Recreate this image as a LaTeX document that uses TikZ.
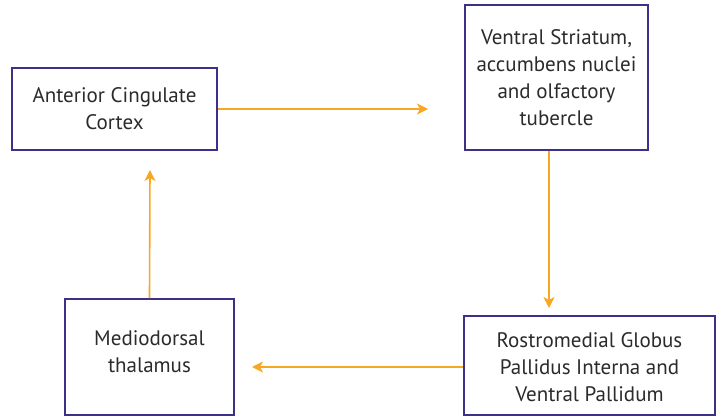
\documentclass[tikz,border=0pt]{standalone}
\usepackage{fontspec}
\setmainfont{PT Sans}
\usetikzlibrary{arrows.meta}
\definecolor{boxline}{HTML}{3B3189}
\definecolor{arr}{HTML}{F7A823}
\definecolor{txt}{HTML}{2B2B2B}
\tikzset{
  region/.style={draw=boxline, line width=1.8pt, fill=white, rectangle, align=center,
    text=txt, font=\fontsize{21}{27}\selectfont, inner sep=0pt},
  regtext/.style={align=center, text=txt, font=\fontsize{21}{27}\selectfont, inner sep=0pt},
  conn/.style={draw=arr, line width=1.6pt, -{Stealth[length=11pt,width=11pt,inset=3pt]}}
}
\begin{document}
\begin{tikzpicture}[x=1pt,y=-1pt]
\useasboundingbox (0,0) rectangle (717,417);
\node[region, minimum width=205pt, minimum height=82pt] (acc) at (114.5,109) {Anterior Cingulate\\Cortex};
\node[region, minimum width=183pt, minimum height=145pt] (vs) at (556.5,77.5) {Ventral Striatum,\\accumbens nuclei\\and olfactory\\tubercle};
\node[region, minimum width=169pt, minimum height=116pt,
  label={[regtext, yshift=5pt]center:{Mediodorsal\\thalamus}}] (md) at (149.5,357) {};
\node[region, minimum width=251pt, minimum height=99pt,
  label={[regtext, yshift=-2pt]center:{Rostromedial Globus\\Pallidus Interna and\\Ventral Pallidum}}] (rgp) at (589.5,365.5) {};
\coordinate (a1) at (428,109);
\coordinate (s2) at (549,150);
\coordinate (a2) at (549,308);
\coordinate (a3) at (252,367);
\coordinate (s3) at (464,367);
\coordinate (a4) at (150,170);
\draw[conn] (acc.east) -- (a1);
\draw[conn] (vs.south -| s2) -- (a2);
\draw[conn] (rgp.west |- s3) -- (a3);
\draw[conn] (md.north) -- (a4);
\end{tikzpicture}
\end{document}
